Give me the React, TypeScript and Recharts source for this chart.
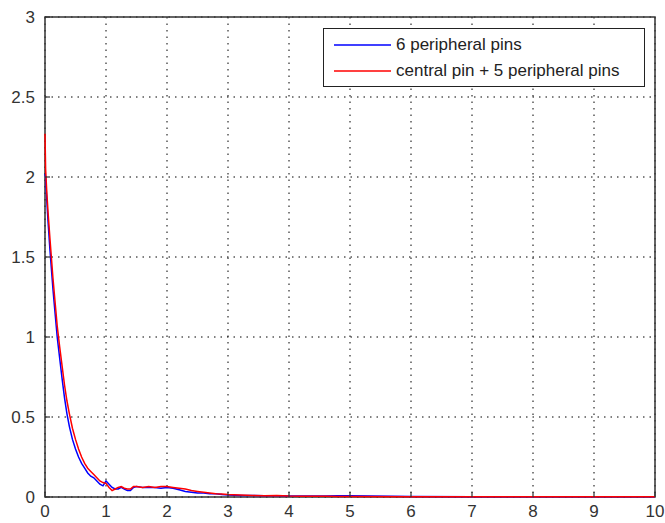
import React from "react";
import { LineChart, Line, XAxis, YAxis, CartesianGrid, ReferenceArea } from "recharts";

// time axis (shared by both curves)
const xs = [
  0, 0.01, 0.03, 0.05, 0.08, 0.1, 0.13, 0.16, 0.2, 0.24, 0.28, 0.32, 0.36, 0.4,
  0.45, 0.5, 0.55, 0.6, 0.65, 0.7, 0.75, 0.8, 0.85, 0.9, 0.95, 1.0, 1.05, 1.1,
  1.15, 1.2, 1.25, 1.3, 1.35, 1.4, 1.45, 1.5, 1.6, 1.7, 1.8, 1.9, 2.0, 2.1, 2.2,
  2.3, 2.4, 2.5, 2.6, 2.7, 2.8, 2.9, 3.0, 3.2, 3.4, 3.6, 3.8, 4.0, 4.2, 4.4, 4.6,
  4.8, 5.0, 6, 7, 8, 9, 10,
];

const peripheral6 = [
  2.02, 2.0, 1.85, 1.72, 1.55, 1.45, 1.3, 1.17, 1.0, 0.87, 0.74, 0.62, 0.52,
  0.44, 0.36, 0.3, 0.25, 0.21, 0.18, 0.15, 0.13, 0.12, 0.1, 0.08, 0.07, 0.1,
  0.08, 0.06, 0.05, 0.05, 0.06, 0.05, 0.04, 0.04, 0.06, 0.065, 0.06, 0.06, 0.06,
  0.055, 0.06, 0.055, 0.045, 0.035, 0.03, 0.025, 0.025, 0.02, 0.02, 0.015,
  0.012, 0.01, 0.01, 0.008, 0.008, 0.006, 0.006, 0.007, 0.006, 0.008, 0.008,
  0.003, 0.002, 0.002, 0.002, 0.002,
];

const central5 = [
  2.27, 2.05, 1.9, 1.78, 1.62, 1.52, 1.37, 1.24, 1.07, 0.94, 0.82, 0.7, 0.6,
  0.52, 0.43, 0.36, 0.3, 0.25, 0.21, 0.18, 0.16, 0.14, 0.12, 0.1, 0.09, 0.085,
  0.06, 0.04, 0.05, 0.06, 0.065, 0.055, 0.05, 0.05, 0.065, 0.065, 0.06, 0.065,
  0.06, 0.065, 0.065, 0.06, 0.055, 0.05, 0.04, 0.035, 0.03, 0.025, 0.02, 0.018,
  0.015, 0.012, 0.01, 0.008, 0.01, 0.006, 0.005, 0.004, 0.004, 0.003, 0.003,
  0.002, 0.002, 0.002, 0.002, 0.002,
];

const xTicks = [0, 1, 2, 3, 4, 5, 6, 7, 8, 9, 10];
const yTicks = [0, 0.5, 1, 1.5, 2, 2.5, 3];

const seriesNames = ["6 peripheral pins", "central pin + 5 peripheral pins"];
const seriesColors = ["#0000ff", "#ff0000"];

const data = xs.map((x, i) => ({ x, a: peripheral6[i], b: central5[i] }));

const AXIS = "#333333";
const FONT = "'Liberation Sans', Arial, sans-serif";
const TICK_LEN = 5;
const X_MARGIN = 8;
const Y_MARGIN = 8;

const BottomTick = (props: any) => {
  const { x, y, payload } = props;
  const axisY = y - X_MARGIN;
  return (
    <g>
      <line x1={x} y1={axisY} x2={x} y2={axisY - TICK_LEN} stroke={AXIS} strokeWidth={1.2} />
      <text x={x} y={y} dy={12} textAnchor="middle" fontSize={17} fill="#333" fontFamily={FONT}>
        {payload.value}
      </text>
    </g>
  );
};

const LeftTick = (props: any) => {
  const { x, y, payload } = props;
  const axisX = x + Y_MARGIN;
  return (
    <g>
      <line x1={axisX} y1={y} x2={axisX + TICK_LEN} y2={y} stroke={AXIS} strokeWidth={1.2} />
      <text x={x - 2} y={y} dy={6} textAnchor="end" fontSize={17} fill="#333" fontFamily={FONT}>
        {payload.value}
      </text>
    </g>
  );
};

const TopTick = (props: any) => {
  const { x, y } = props;
  const axisY = y + X_MARGIN;
  return <line x1={x} y1={axisY} x2={x} y2={axisY + TICK_LEN} stroke={AXIS} strokeWidth={1.2} />;
};

const RightTick = (props: any) => {
  const { x, y } = props;
  const axisX = x - Y_MARGIN;
  return <line x1={axisX} y1={y} x2={axisX - TICK_LEN} y2={y} stroke={AXIS} strokeWidth={1.2} />;
};

const LegendBox = () => (
  <div
    style={{
      position: "absolute",
      left: 323,
      top: 28,
      width: 322,
      height: 59,
      border: "1px solid #222",
      background: "#fff",
      fontFamily: FONT,
      fontSize: 17,
      color: "#222",
      boxSizing: "border-box",
      paddingTop: 3,
    }}
  >
    {seriesNames.map((name, i) => (
      <div key={name} style={{ display: "flex", alignItems: "center", height: 26 }}>
        <svg width={57} height={4} style={{ marginLeft: 10, marginRight: 5 }}>
          <line x1={0} y1={2} x2={57} y2={2} stroke={seriesColors[i]} strokeWidth={1.5} />
        </svg>
        <span>{name}</span>
      </div>
    ))}
  </div>
);

export default function App() {
  return (
    <div style={{ position: "absolute", left: 0, top: 0, width: 665, height: 523, background: "#fff" }}>
      <LineChart
        width={665}
        height={523}
        data={data}
        margin={{ top: 17, right: 10, left: 0, bottom: 0 }}
      >
        <CartesianGrid
          stroke="#000"
          strokeDasharray="1.5 5"
          horizontalValues={yTicks}
          verticalValues={xTicks}
        />
        <XAxis
          dataKey="x"
          type="number"
          domain={[0, 10]}
          ticks={xTicks}
          height={26}
          tickSize={0}
          tickMargin={X_MARGIN}
          tick={<BottomTick />}
          axisLine={false}
          interval={0}
        />
        <XAxis
          xAxisId="top"
          orientation="top"
          dataKey="x"
          type="number"
          domain={[0, 10]}
          ticks={xTicks}
          height={0}
          tickSize={0}
          tickMargin={X_MARGIN}
          tick={<TopTick />}
          axisLine={false}
          interval={0}
        />
        <YAxis
          type="number"
          domain={[0, 3]}
          ticks={yTicks}
          width={45}
          tickSize={0}
          tickMargin={Y_MARGIN}
          tick={<LeftTick />}
          axisLine={false}
          interval={0}
        />
        <YAxis
          yAxisId="right"
          orientation="right"
          type="number"
          domain={[0, 3]}
          ticks={yTicks}
          width={0}
          tickSize={0}
          tickMargin={Y_MARGIN}
          tick={<RightTick />}
          axisLine={false}
          interval={0}
        />
        <Line
          type="linear"
          dataKey="a"
          name={seriesNames[0]}
          stroke={seriesColors[0]}
          strokeWidth={1.5}
          dot={false}
          isAnimationActive={false}
        />
        <Line
          type="linear"
          dataKey="b"
          name={seriesNames[1]}
          stroke={seriesColors[1]}
          strokeWidth={1.5}
          dot={false}
          isAnimationActive={false}
        />
        <ReferenceArea
          x1={0}
          x2={10}
          y1={0}
          y2={3}
          fill="none"
          fillOpacity={0}
          stroke={AXIS}
          strokeWidth={1.5}
          ifOverflow="visible"
        />
      </LineChart>
      <LegendBox />
    </div>
  );
}
